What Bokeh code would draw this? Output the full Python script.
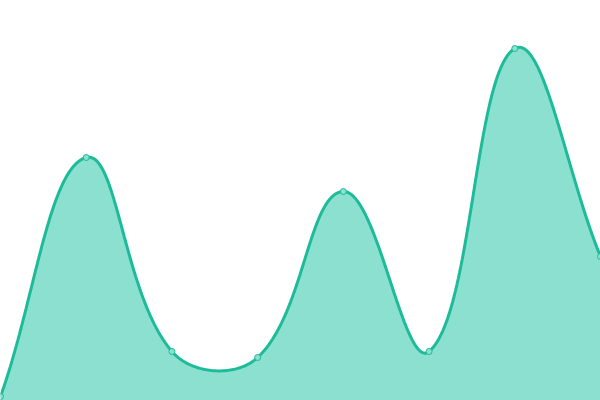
import numpy as np
from bokeh.plotting import figure
from bokeh.models import Range1d
from bokeh.embed import file_html
from bokeh.resources import INLINE

# Data
categories = ["A", "B", "C", "D", "E", "F", "G", "H"]
values = [4, 243, 49, 43, 209, 49, 352, 144]

W, H = 600, 400
Y_MAX = 400
TENSION = 0.4

x_idx = np.arange(len(values), dtype=float)
vals = np.array(values, dtype=float)

# pixel-space coordinates for spline control points (Chart.js style)
sx = W / (len(values) - 1)
sy = H / Y_MAX
px = x_idx * sx
py = vals * sy

n = len(values)
cp_prev = [None] * n
cp_next = [None] * n
for i in range(n):
    prev = (px[max(i - 1, 0)], py[max(i - 1, 0)])
    cur = (px[i], py[i])
    nxt = (px[min(i + 1, n - 1)], py[min(i + 1, n - 1)])
    d01 = np.hypot(cur[0] - prev[0], cur[1] - prev[1])
    d12 = np.hypot(nxt[0] - cur[0], nxt[1] - cur[1])
    s01 = d01 / (d01 + d12) if (d01 + d12) else 0
    s12 = d12 / (d01 + d12) if (d01 + d12) else 0
    fa = TENSION * s01
    fb = TENSION * s12
    cpx_p = cur[0] - fa * (nxt[0] - prev[0])
    cpy_p = cur[1] - fa * (nxt[1] - prev[1])
    cpx_n = cur[0] + fb * (nxt[0] - prev[0])
    cpy_n = cur[1] + fb * (nxt[1] - prev[1])
    cp_prev[i] = (min(max(cpx_p, 0), W), min(max(cpy_p, 0), H))
    cp_next[i] = (min(max(cpx_n, 0), W), min(max(cpy_n, 0), H))

cx, cy = [], []
t = np.linspace(0, 1, 60)
for i in range(n - 1):
    p0 = (px[i], py[i])
    p1 = cp_next[i]
    p2 = cp_prev[i + 1]
    p3 = (px[i + 1], py[i + 1])
    bx = (1 - t) ** 3 * p0[0] + 3 * (1 - t) ** 2 * t * p1[0] + 3 * (1 - t) * t ** 2 * p2[0] + t ** 3 * p3[0]
    by = (1 - t) ** 3 * p0[1] + 3 * (1 - t) ** 2 * t * p1[1] + 3 * (1 - t) * t ** 2 * p2[1] + t ** 3 * p3[1]
    if i > 0:
        bx, by = bx[1:], by[1:]
    cx.extend(bx / sx)
    cy.extend(by / sy)

p = figure(width=W, height=H, output_backend="svg", toolbar_location=None,
           x_range=Range1d(0, n - 1), y_range=Range1d(0, Y_MAX),
           min_border=0, outline_line_color=None, background_fill_color="white",
           border_fill_color="white")
p.axis.visible = False
p.grid.visible = False

p.varea(x=cx, y1=[0] * len(cx), y2=cy, fill_color="#8be0cf", fill_alpha=1.0)
p.line(x=cx, y=cy, line_color="#1dbb99", line_width=3)
p.scatter(x=x_idx, y=vals, size=6, fill_color="#8be0cf", line_color="#1dbb99", line_width=1)

open("out.html", "w").write(file_html(p, INLINE))
